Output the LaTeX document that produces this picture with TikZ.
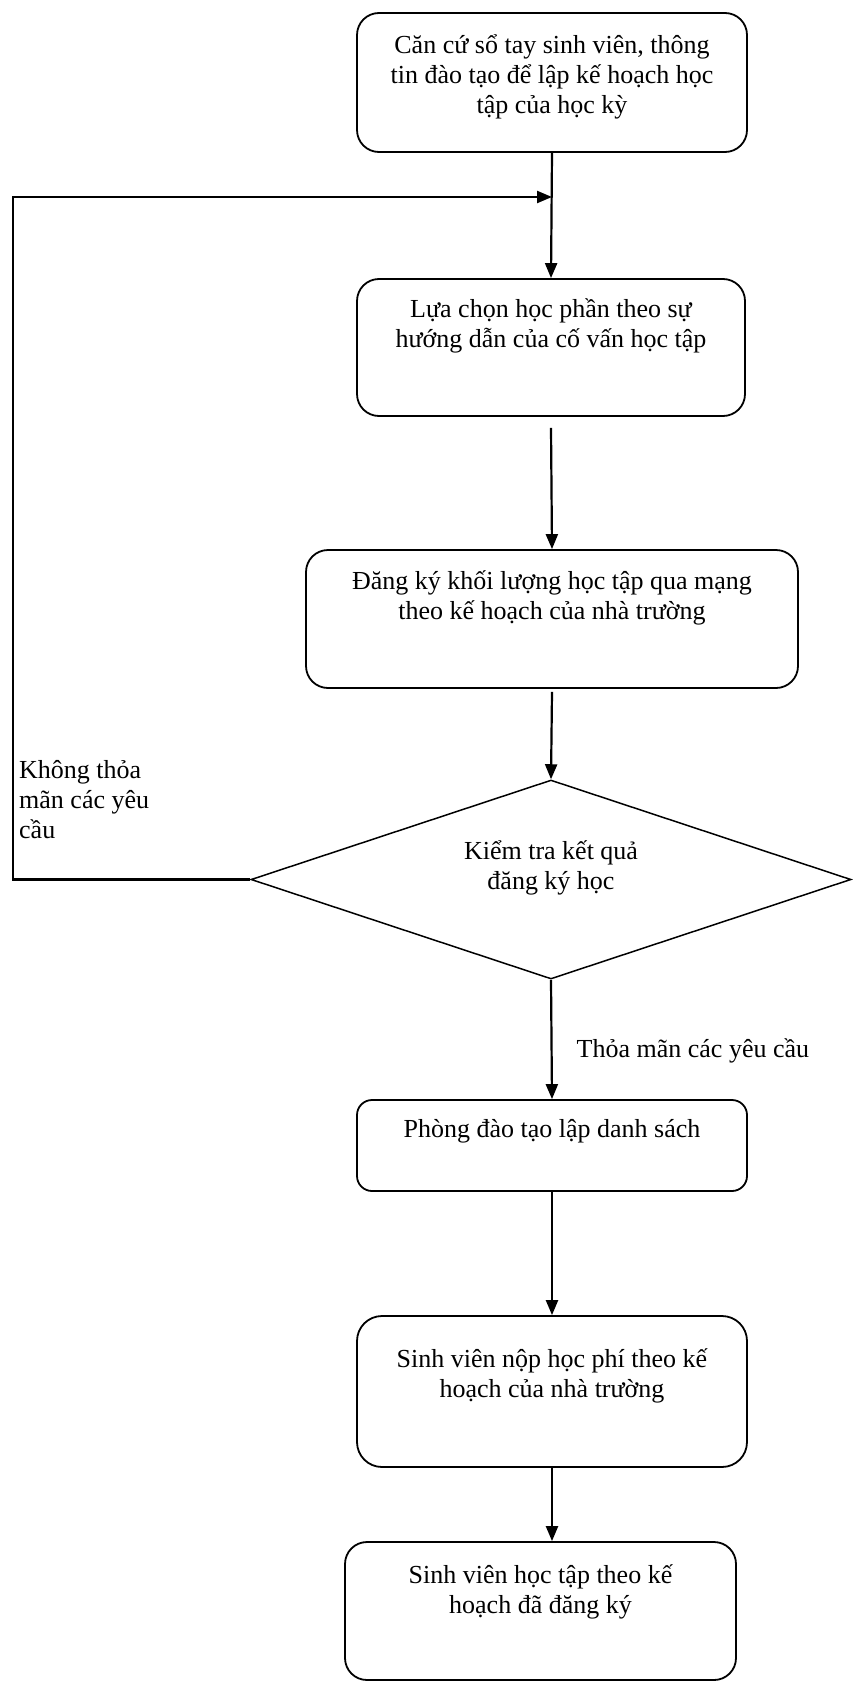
\documentclass[tikz,border=0pt]{standalone}
\usepackage{fontspec}
\setmainfont{Liberation Serif}
\usetikzlibrary{arrows.meta,positioning,shapes.geometric,calc}
\tikzset{
  flowArrow/.style={-{Triangle[length=15pt,width=12pt]}, line width=2.2pt, draw=black},
  flowStep/.style={
    draw=black,
    line width=1.8pt,
    rounded corners=22pt,
    align=center,
    minimum width=390pt,
    inner sep=0pt
  },
  flowCheck/.style={
    diamond,
    aspect=3,
    draw=black,
    line width=1.5pt,
    align=center,
    inner sep=0pt
  },
  flowNote/.style={align=left, inner sep=0pt}
}

\begin{document}
\begin{tikzpicture}[x=1pt, y=-1pt, font=\fontsize{26}{30}\selectfont]
  \useasboundingbox (0,0) rectangle (853,1683);

  \node[flowStep, minimum height=139pt, text depth=16pt] (handbook) at (552,82.5)
    {Căn cứ sổ tay sinh viên, thông\\tin đào tạo để lập kế hoạch học\\tập của học kỳ};
  \node[flowStep, minimum width=388pt, minimum height=137pt, text depth=48pt] (choose) at (551,347.5)
    {Lựa chọn học phần theo sự\\hướng dẫn của cố vấn học tập};
  \node[flowStep, minimum width=492pt, minimum height=138pt, text depth=48pt] (register) at (552,619)
    {Đăng ký khối lượng học tập qua mạng\\theo kế hoạch của nhà trường};
  \node[flowCheck, minimum width=600pt, minimum height=199pt, text depth=28pt] (check) at (551,879.5)
    {Kiểm tra kết quả\\đăng ký học};
  \node[flowStep, minimum height=91pt, rounded corners=15pt, text depth=34pt] (list) at (552,1145.5)
    {Phòng đào tạo lập danh sách};
  \node[flowStep, minimum height=151pt, rounded corners=25pt, text depth=36pt] (fee) at (552,1391.5)
    {Sinh viên nộp học phí theo kế\\hoạch của nhà trường};
  \node[flowStep, minimum width=391pt, minimum height=138pt, text depth=44pt] (study) at (540.5,1611)
    {Sinh viên học tập theo kế\\hoạch đã đăng ký};

  \node[flowNote, anchor=west] (failNote) at (19,800) {Không thỏa\\mãn các yêu\\cầu};

  % main flow
  \draw[flowArrow] (handbook.south) -- (choose.north);
  \draw[flowArrow] ($(choose.south)+(0,11)$) -- (register.north);
  \draw[flowArrow] ($(register.south)+(0,3)$) -- (check.north);
  \draw[flowArrow] (check.south) -- (list.north)
    node[flowNote, pos=0.6, right=24pt] (okNote) {Thỏa mãn các yêu cầu};
  \draw[flowArrow] (list.south) -- (fee.north);
  \draw[flowArrow] (fee.south) -- (fee.south |- study.north);

  % back to course selection
  \coordinate (merge) at (552,197);
  \coordinate (loopCorner) at (13,197);
  \draw[flowArrow] (check.west) -| (loopCorner) -- (merge);
\end{tikzpicture}
\end{document}
